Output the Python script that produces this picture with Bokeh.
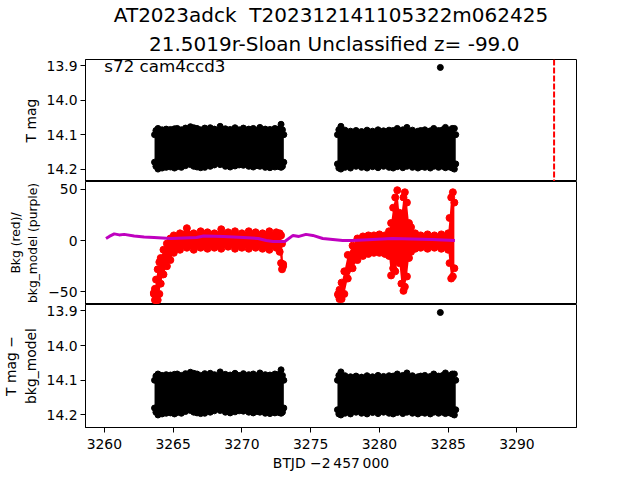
from bokeh.plotting import figure
from bokeh.layouts import column
from bokeh.models import (Range1d, FixedTicker, Span, Label, Title,
                          PrintfTickFormatter, CustomJSTickFormatter)
from bokeh.embed import file_html
from bokeh.resources import INLINE

# ---------------- data ----------------
title_line1 = "AT2023adck\u00a0 T202312141105322m062425"
title_line2 = "\u00a021.5019r-Sloan Unclassified z= -99.0"
sector_text = "s72 cam4ccd3"
xlabel = "BTJD \u22122\u2009457\u2009000"

x_ticks = [3260, 3265, 3270, 3275, 3280, 3285, 3290]
mag_ticks = [13.9, 14.0, 14.1, 14.2]
bkg_ticks = [-50, 0, 50]

# light curve envelope (marker centres), orbit 1 (T mag)
lc1_t = [3263.65, 3263.75, 3263.9, 3264.2, 3264.5, 3264.81, 3265.1, 3265.3, 3265.6, 3265.9,
         3266.26, 3266.5, 3266.74, 3267.0, 3267.3, 3267.7, 3268.0, 3268.42, 3268.8, 3269.15,
         3269.5, 3269.8, 3270.11, 3270.5, 3270.83, 3271.1, 3271.31, 3271.7, 3272.04, 3272.4,
         3272.7, 3272.85, 3272.95, 3273.05]
lc1_hi = [14.100, 14.088, 14.082, 14.086, 14.084, 14.085, 14.083, 14.082, 14.086, 14.081,
          14.077, 14.080, 14.082, 14.086, 14.081, 14.080, 14.084, 14.076, 14.083, 14.085,
          14.080, 14.086, 14.081, 14.084, 14.082, 14.087, 14.079, 14.084, 14.085, 14.082,
          14.083, 14.070, 14.086, 14.100]
lc1_lo = [14.180, 14.192, 14.200, 14.197, 14.195, 14.194, 14.197, 14.193, 14.195, 14.190,
          14.187, 14.192, 14.194, 14.196, 14.195, 14.192, 14.188, 14.187, 14.192, 14.194,
          14.191, 14.188, 14.189, 14.192, 14.194, 14.190, 14.192, 14.195, 14.196, 14.194,
          14.193, 14.195, 14.192, 14.180]

# light curve envelope (marker centres), orbit 2 (T mag)
lc2_t = [3276.95, 3277.05, 3277.2, 3277.5, 3277.9, 3278.3, 3278.7, 3279.1, 3279.5, 3279.9,
         3280.3, 3280.7, 3281.0, 3281.3, 3281.7, 3282.0, 3282.4, 3282.8, 3283.0, 3283.3,
         3283.7, 3283.95, 3284.3, 3284.6, 3284.8, 3285.1, 3285.3, 3285.45, 3285.55]
lc2_hi = [14.100, 14.086, 14.076, 14.087, 14.090, 14.088, 14.091, 14.087, 14.090, 14.086,
          14.089, 14.087, 14.088, 14.082, 14.086, 14.079, 14.087, 14.090, 14.088, 14.086,
          14.089, 14.082, 14.088, 14.086, 14.079, 14.087, 14.082, 14.082, 14.100]
lc2_lo = [14.185, 14.197, 14.200, 14.195, 14.197, 14.192, 14.195, 14.197, 14.193, 14.196,
          14.192, 14.195, 14.197, 14.193, 14.196, 14.192, 14.195, 14.197, 14.193, 14.195,
          14.197, 14.192, 14.195, 14.192, 14.196, 14.194, 14.197, 14.200, 14.185]

# single outlier
out_t = [3284.43]
out_mag = [13.905]

# background envelope (marker centres), orbit 1
bk1_t = [3263.6, 3263.68, 3263.76, 3263.88, 3264.0, 3264.1, 3264.3, 3264.55, 3264.8, 3265.05,
         3265.5, 3266.0, 3266.5, 3267.0, 3267.5, 3268.0, 3268.5, 3269.0, 3269.5, 3270.0,
         3270.5, 3271.0, 3271.5, 3272.0, 3272.5, 3272.75, 3272.85, 3272.92, 3273.0]
bk1_hi = [-51, -47, -38, -28, -21, -17, -9, -3, 2, 5,
          7, 12, 7, 9, 8, 7, 11, 8, 9, 7,
          9, 8, 7, 9, 8, 7, 5, -3, -23]
bk1_lo = [-52, -58, -58, -58, -52, -42, -33, -25, -19, -12,
          -9, -7, -9, -7, -8, -7, -8, -6, -8, -7,
          -8, -7, -8, -9, -7, -11, -22, -28, -25]

# background envelope (marker centres), orbit 2
bk2_t = [3277.0, 3277.1, 3277.25, 3277.45, 3277.7, 3278.05, 3278.4, 3278.8, 3279.2, 3279.6,
         3280.0, 3280.4, 3280.7, 3280.85, 3281.0, 3281.15, 3281.3, 3281.45, 3281.6, 3281.75,
         3281.85, 3282.0, 3282.15, 3282.3, 3282.6, 3283.0, 3283.5, 3284.0, 3284.5, 3285.0,
         3285.1, 3285.22, 3285.34, 3285.45]
bk2_hi = [-53, -48, -41, -30, -14, -5, 2, 4, 5, 5,
          6, 5, 9, 17, 32, 42, 49, 27, 25, 42,
          47, 37, 17, 13, 7, 5, 6, 5, 6, 7,
          22, 42, 47, 37]
bk2_lo = [-52, -57, -57, -52, -37, -27, -19, -15, -13, -12,
          -12, -13, -15, -34, -27, -30, -19, -22, -42, -49,
          -45, -35, -17, -11, -8, -7, -8, -7, -8, -9,
          -22, -37, -35, -27]

# background model (purple)
model_t = [3260.12, 3260.36, 3260.72, 3261.08, 3261.44, 3262.17, 3262.89, 3263.61, 3264.82, 3265.78,
           3266.71, 3267.22, 3268.66, 3270.11, 3271.19, 3271.77, 3272.27, 3273.12, 3273.72, 3274.15,
           3274.66, 3275.16, 3275.88, 3276.61, 3277.33, 3278.05, 3279.49, 3280.94, 3282.38, 3283.83,
           3285.49]
model_v = [2, 4, 6.5, 5.5, 6, 4.5, 3.5, 3, 2, 2.5,
           3, 4.5, 4, 3, 2, 0, -1, -1, 5, 4,
           6, 5, 2, 1, 0, 0, 1, 2, 1.5, 1,
           0]

discovery_t = 3292.7

# ---------------- styling helpers ----------------
FONT = "DejaVu Sans"
FS = "13.9px"
X_RANGE = Range1d(3258.63, 3294.33)


def style(p, ticks, label, formatter, label_size=FS):
    p.outline_line_color = "black"
    p.outline_line_width = 1
    p.outline_line_alpha = 1
    p.xgrid.visible = False
    p.ygrid.visible = False
    for ax in p.yaxis:
        ax.ticker = FixedTicker(ticks=ticks)
        ax.formatter = formatter
        ax.axis_label = label
        ax.axis_label_text_font = FONT
        ax.axis_label_text_font_size = label_size
        ax.axis_label_text_font_style = "normal"
        ax.axis_label_text_color = "black"
        ax.axis_label_text_line_height = 1.2
        ax.major_label_text_font = FONT
        ax.major_label_text_font_size = FS
        ax.major_label_text_color = "black"
        ax.major_label_standoff = 3
        ax.major_tick_out = 5
        ax.major_tick_in = 0
        ax.minor_tick_line_color = None
        ax.axis_line_color = "black"
        ax.major_tick_line_color = "black"
        ax.axis_label_standoff = 5


def envelope(p, t, hi, lo, color, size):
    p.varea(x=t, y1=hi, y2=lo, color=color)
    p.scatter(x=t, y=hi, size=size, color=color)
    p.scatter(x=t, y=lo, size=size, color=color)


common = dict(width=640, output_backend="svg", toolbar_location=None,
              x_range=X_RANGE, min_border_left=81, min_border_right=64,
              background_fill_color="white", border_fill_color="white")

mag_fmt = PrintfTickFormatter(format="%.1f")
bkg_fmt = CustomJSTickFormatter(code="return (tick < 0 ? '\u2212' : '') + Math.abs(tick).toFixed(0);")

# ---------------- top panel ----------------
p1 = figure(height=181, x_axis_location=None, min_border_top=58, min_border_bottom=0,
            y_range=Range1d(14.236, 13.882), title=title_line1, **common)
p1.title.align = "center"
p1.title.text_font = FONT
p1.title.text_font_size = "20px"
p1.title.text_font_style = "normal"
p1.title.text_color = "black"
p1.title.text_line_height = 0.8
p1.title.standoff = 0
p1.add_layout(Title(text=title_line2, align="center", text_font=FONT, text_font_size="20px",
                    text_font_style="normal", text_color="black", text_line_height=0.8,
                    standoff=7), "above")
style(p1, mag_ticks, "T mag", mag_fmt)
envelope(p1, lc1_t, lc1_hi, lc1_lo, "black", 6)
envelope(p1, lc2_t, lc2_hi, lc2_lo, "black", 6)
p1.scatter(x=out_t, y=out_mag, size=6, color="black")
p1.add_layout(Span(location=discovery_t, dimension="height", line_color="red",
                   line_width=2, line_dash="6 2"))
p1.add_layout(Label(x=3260.0, y=13.882, text=sector_text, text_baseline="top",
                    text_font=FONT, text_font_size="16.7px", text_color="black", y_offset=4))

# ---------------- middle panel ----------------
p2 = figure(height=123, x_axis_location=None, min_border_top=0, min_border_bottom=0,
            y_range=Range1d(-62.3, 57.5), **common)
style(p2, bkg_ticks, "Bkg (red)/\nbkg_model (purple)", bkg_fmt, label_size="12.3px")
envelope(p2, bk1_t, bk1_hi, bk1_lo, "red", 7)
envelope(p2, bk2_t, bk2_hi, bk2_lo, "red", 7)
p2.line(x=model_t, y=model_v, color="#bf00bf", line_width=3)

# ---------------- bottom panel ----------------
p3 = figure(height=176, min_border_top=0, min_border_bottom=53,
            y_range=Range1d(14.236, 13.882), **common)
style(p3, mag_ticks, "T mag \u2212\nbkg_model", mag_fmt)
envelope(p3, lc1_t, lc1_hi, lc1_lo, "black", 6)
envelope(p3, lc2_t, lc2_hi, lc2_lo, "black", 6)
p3.scatter(x=out_t, y=out_mag, size=6, color="black")
xa = p3.xaxis[0]
xa.ticker = FixedTicker(ticks=x_ticks)
xa.axis_label = xlabel
xa.axis_label_text_font = FONT
xa.axis_label_text_font_size = FS
xa.axis_label_text_font_style = "normal"
xa.axis_label_text_color = "black"
xa.major_label_text_font = FONT
xa.major_label_text_font_size = FS
xa.major_label_text_color = "black"
xa.major_label_standoff = 6
xa.major_tick_out = 5
xa.major_tick_in = 0
xa.minor_tick_line_color = None
xa.axis_line_color = "black"
xa.axis_label_standoff = 3

layout = column(p1, p2, p3, spacing=0)
open("out.html", "w").write(file_html(layout, INLINE))
